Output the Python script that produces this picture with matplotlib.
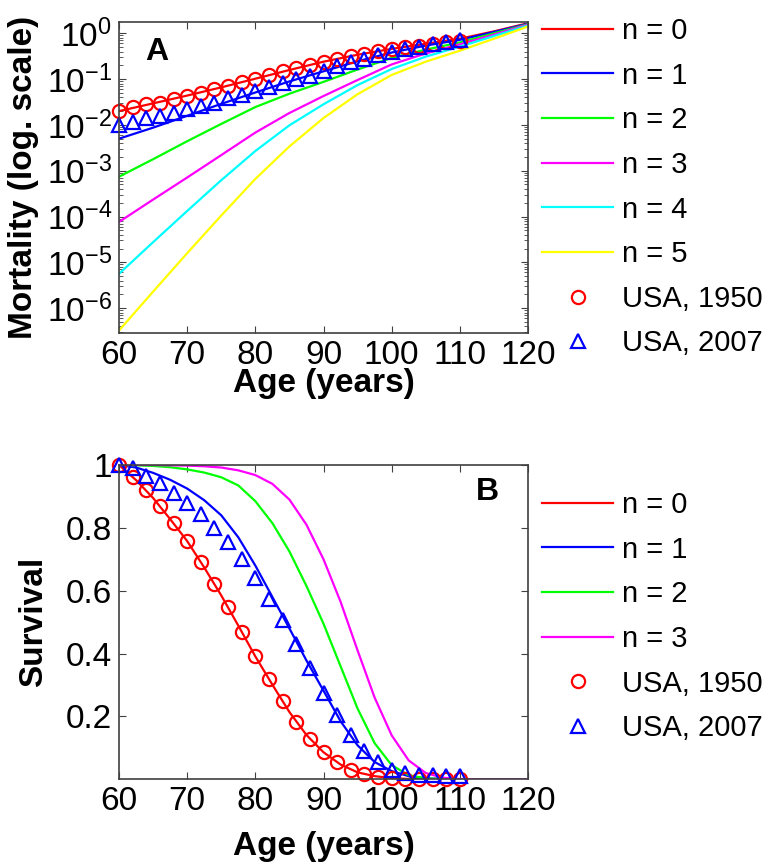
import matplotlib
matplotlib.use('Agg')
import matplotlib.pyplot as plt
from matplotlib.ticker import LogLocator, NullFormatter

plt.rcParams['font.family'] = ['Liberation Sans', 'DejaVu Sans']
plt.rcParams['mathtext.fontset'] = 'custom'
plt.rcParams['mathtext.rm'] = 'Liberation Sans'

# ages
ages_model = [60, 65, 70, 75, 80, 85, 90, 95, 100, 105, 110, 115, 120]
ages_surv = [60, 62.5, 65, 67.5, 70, 72.5, 75, 77.5, 80, 82.5, 85, 87.5, 90,
             92.5, 95, 97.5, 100, 102.5, 105, 107.5, 110, 112.5, 115, 117.5, 120]
ages_data = list(range(60, 111, 2))

# panel A: model mortality, n = 0..5
mort_n0 = [0.020, 0.0295, 0.0437, 0.066, 0.102, 0.158, 0.24, 0.34, 0.457, 0.59, 0.76, 1.10, 1.66]
mort_n1 = [0.0050, 0.0087, 0.0158, 0.0288, 0.051, 0.089, 0.148, 0.245, 0.38, 0.54, 0.72, 1.07, 1.62]
mort_n2 = [7.4e-4, 1.78e-3, 4.4e-3, 0.0105, 0.0245, 0.048, 0.087, 0.162, 0.29, 0.44, 0.63, 1.0, 1.58]
mort_n3 = [7.6e-5, 2.34e-4, 7.1e-4, 2.19e-3, 6.8e-3, 0.0182, 0.0427, 0.0955, 0.209, 0.363, 0.575, 0.933, 1.55]
mort_n4 = [5.6e-6, 2.75e-5, 1.32e-4, 6.2e-4, 2.69e-3, 9.8e-3, 0.0282, 0.0741, 0.166, 0.309, 0.513, 0.871, 1.48]
mort_n5 = [3.24e-7, 2.29e-6, 1.58e-5, 1.05e-4, 6.6e-4, 3.39e-3, 0.0141, 0.0468, 0.123, 0.240, 0.417, 0.759, 1.41]

# USA life table mortality
usa1950_mort = [0.020, 0.024, 0.028, 0.030, 0.037, 0.043, 0.050, 0.061, 0.072, 0.087,
                0.10, 0.12, 0.147, 0.174, 0.20, 0.24, 0.28, 0.32, 0.35, 0.41,
                0.46, 0.50, 0.53, 0.58, 0.64, 0.69]
usa2007_mort = [0.0102, 0.0114, 0.014, 0.016, 0.018, 0.022, 0.026, 0.030, 0.038, 0.044,
                0.054, 0.067, 0.082, 0.10, 0.118, 0.154, 0.19, 0.24, 0.28, 0.34,
                0.40, 0.45, 0.51, 0.57, 0.64, 0.70]

# panel B: model survival, n = 0..3
surv_n0 = [1.0, 0.952, 0.895, 0.828, 0.758, 0.674, 0.585, 0.489, 0.391, 0.301, 0.214, 0.141, 0.086,
           0.047, 0.022, 0.010, 0.004, 0.001, 0.0003, 0, 0, 0, 0, 0, 0]
surv_n1 = [1.0, 0.992, 0.975, 0.953, 0.925, 0.888, 0.840, 0.770, 0.680, 0.580, 0.480, 0.378, 0.282,
           0.185, 0.108, 0.055, 0.026, 0.010, 0.003, 0.001, 0, 0, 0, 0, 0]
surv_n2 = [1.0, 0.999, 0.997, 0.993, 0.986, 0.976, 0.961, 0.935, 0.885, 0.815, 0.725, 0.615, 0.495,
           0.36, 0.225, 0.115, 0.045, 0.013, 0.003, 0.0005, 0, 0, 0, 0, 0]
surv_n3 = [1.0, 1.0, 1.0, 0.999, 0.998, 0.996, 0.992, 0.983, 0.968, 0.94, 0.89, 0.81, 0.70,
           0.565, 0.41, 0.26, 0.14, 0.06, 0.02, 0.005, 0.001, 0, 0, 0, 0]

usa1950_surv = [1.000, 0.963, 0.920, 0.868, 0.814, 0.758, 0.691, 0.622, 0.547, 0.469,
                0.391, 0.319, 0.248, 0.181, 0.129, 0.086, 0.054, 0.030, 0.016, 0.008,
                0.005, 0.002, 0.0, 0.0, 0.0, 0.0]
usa2007_surv = [1.000, 0.990, 0.965, 0.942, 0.912, 0.880, 0.843, 0.801, 0.755, 0.700,
                0.640, 0.575, 0.506, 0.431, 0.354, 0.276, 0.203, 0.141, 0.090, 0.054,
                0.030, 0.019, 0.015, 0.013, 0.012, 0.012]

colors = ['#ff0000', '#0000ff', '#00ff00', '#ff00ff', '#00ffff', '#ffff00']
labels = ['n = 0', 'n = 1', 'n = 2', 'n = 3', 'n = 4', 'n = 5']

W, H = 767, 865
spine_col = '#404040'


def style_axes(ax, xlabel_y):
    for s in ax.spines.values():
        s.set_color(spine_col)
        s.set_linewidth(1.2)
    ax.tick_params(which='both', direction='in', top=True, right=True,
                   color=spine_col, labelsize=24, labelcolor='black', pad=5)
    ax.tick_params(which='major', length=5)
    ax.tick_params(which='minor', length=3)
    ax.set_xlim(60, 120)
    ax.set_xticks([60, 70, 80, 90, 100, 110, 120])
    ax.set_xlabel('Age (years)', fontsize=24, fontweight='bold')
    ax.xaxis.set_label_coords(0.5, xlabel_y)


def add_legend(ax, handles, y_top):
    ax.legend(handles=handles, loc='upper left', bbox_to_anchor=(542 / W, 1 - y_top / H),
              bbox_transform=fig.transFigure, frameon=False, fontsize=21,
              handlelength=2.45, handletextpad=0.3, labelspacing=0.57,
              borderaxespad=0, borderpad=0)


fig = plt.figure(figsize=(W / 100, H / 100), dpi=100)

# ---- panel A
ax1 = fig.add_axes([119 / W, 1 - 333.3 / H, 409 / W, 311 / H])
handles = []
for vals, c, lab in zip([mort_n0, mort_n1, mort_n2, mort_n3, mort_n4, mort_n5], colors, labels):
    h, = ax1.semilogy(ages_model, vals, color=c, lw=1.6, label=lab)
    handles.append(h)
h1, = ax1.semilogy(ages_data, usa1950_mort, 'o', mfc='none', mec='#ff0000', ms=9.5, mew=1.6,
                   label='USA, 1950', clip_on=False)
h2, = ax1.semilogy(ages_data, usa2007_mort, '^', mfc='none', mec='#0000ff', ms=9.5, mew=1.6,
                   label='USA, 2007', clip_on=False)
handles += [h1, h2]
style_axes(ax1, -0.11)
ax1.set_ylim(10 ** -6.55, 10 ** 0.24)
ax1.yaxis.set_major_locator(LogLocator(base=10, numticks=12))
ax1.yaxis.set_minor_locator(LogLocator(base=10, subs=range(2, 10), numticks=12))
ax1.yaxis.set_minor_formatter(NullFormatter())
ax1.set_ylabel('Mortality (log. scale)', fontsize=24, fontweight='bold')
ax1.yaxis.set_label_coords(-0.195, 0.5)
ax1.text(0.093, 0.905, 'A', transform=ax1.transAxes, fontsize=23, fontweight='bold',
         ha='center', va='center')
add_legend(ax1, handles, 17)

# ---- panel B
ax2 = fig.add_axes([119 / W, 1 - 779.3 / H, 409 / W, 314.3 / H])
handles = []
for vals, c, lab in zip([surv_n0, surv_n1, surv_n2, surv_n3], colors, labels):
    h, = ax2.plot(ages_surv, vals, color=c, lw=1.6, label=lab)
    handles.append(h)
h1, = ax2.plot(ages_data, usa1950_surv, 'o', mfc='none', mec='#ff0000', ms=9.5, mew=1.6,
               label='USA, 1950', clip_on=False)
h2, = ax2.plot(ages_data, usa2007_surv, '^', mfc='none', mec='#0000ff', ms=9.5, mew=1.6,
               label='USA, 2007', clip_on=False)
handles += [h1, h2]
style_axes(ax2, -0.165)
ax2.set_ylim(0, 1)
ax2.set_yticks([0.2, 0.4, 0.6, 0.8, 1.0])
ax2.set_yticklabels(['0.2', '0.4', '0.6', '0.8', '1'])
ax2.set_ylabel('Survival', fontsize=24, fontweight='bold')
ax2.yaxis.set_label_coords(-0.17, 0.5)
ax2.text(0.90, 0.914, 'B', transform=ax2.transAxes, fontsize=23, fontweight='bold',
         ha='center', va='center')
add_legend(ax2, handles, 491)

fig.savefig('out.png', dpi=100)
